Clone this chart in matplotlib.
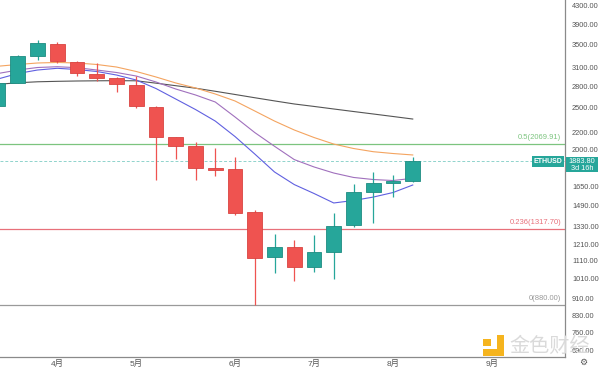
import numpy as np
import matplotlib
matplotlib.use("Agg")
import matplotlib.pyplot as plt
from matplotlib.patches import Rectangle
from matplotlib.transforms import blended_transform_factory

plt.rcParams['font.family'] = ['Liberation Sans', 'Noto Sans CJK SC', 'DejaVu Sans']

# 周K线 (ETHUSD, 2022-03-14 起)
week_start = ['03-14', '03-21', '03-28', '04-04', '04-11', '04-18', '04-25', '05-02',
              '05-09', '05-16', '05-23', '05-30', '06-06', '06-13', '06-20', '06-27',
              '07-04', '07-11', '07-18', '07-25', '08-01', '08-08']
opens = [2526, 2858, 3293, 3509, 3195, 2993, 2926, 2823, 2516, 2139, 2042, 1815,
         1805, 1437, 1131, 1198, 1077, 1166, 1343, 1598, 1681, 1700]
highs = [2900, 3310, 3584, 3547, 3200, 3178, 2950, 2961, 2520, 2145, 2090, 2018,
         1930, 1455, 1281, 1241, 1274, 1429, 1670, 1782, 1751, 1930]
lows = [2480, 2850, 3224, 3168, 2961, 2888, 2725, 2495, 1705, 1906, 1705, 1742,
        1420, 880, 1043, 1000, 1049, 1007, 1330, 1360, 1561, 1690]
closes = [2854, 3298, 3522, 3207, 3004, 2926, 2834, 2530, 2146, 2046, 1815, 1800,
          1434, 1130, 1198, 1077, 1166, 1337, 1598, 1681, 1700, 1883.8]

# 均线
ma_orange = [3119, 3148, 3173, 3182, 3173, 3148, 3106, 3033, 2946, 2854, 2779, 2692,
             2594, 2460, 2332, 2224, 2137, 2064, 2016, 1982, 1963, 1948]
ma_purple = [3001, 3057, 3098, 3111, 3095, 3057, 3017, 2961, 2869, 2764, 2678, 2580,
             2383, 2194, 2040, 1901, 1828, 1770, 1729, 1710, 1701, 1721]
ma_blue = [2915, 3001, 3057, 3085, 3065, 3033, 2977, 2899, 2771, 2621, 2479, 2332,
           2148, 1958, 1780, 1665, 1588, 1510, 1530, 1558, 1596, 1661]
ma_gray = [2834, 2857, 2872, 2879, 2884, 2887, 2889, 2887, 2851, 2813, 2776, 2731,
           2685, 2639, 2595, 2553, 2520, 2486, 2453, 2421, 2389, 2357]

# 斐波那契回撤
fib_levels = [2069.91, 1317.70, 880.00]
fib_labels = ['0.5(2069.91)', '0.236(1317.70)', '0(880.00)']
fib_colors = ['#7cc47f', '#e8707a', '#9a9a9a']

last_price = 1883.80
y_ticks = [4300, 3900, 3500, 3100, 2800, 2500, 2200, 2000, 1650, 1490, 1330,
           1210, 1110, 1010, 910, 830, 760, 690]
month_pos = [3, 7, 12, 16, 20, 25]
month_labels = ['4月', '5月', '6月', '7月', '8月', '9月']

UP = '#26a69a'
DOWN = '#ef5350'


def main():
    fig = plt.figure(figsize=(6, 3.67), dpi=100)
    ax = fig.add_axes([0, 10 / 367, 565 / 600, 357 / 367])
    ax.set_yscale('log')
    x = np.arange(len(opens))

    # 均线
    ax.plot(x, ma_gray, color='#555555', lw=0.8, zorder=2)
    ax.plot(x, ma_orange, color='#f4a460', lw=0.8, zorder=2)
    ax.plot(x, ma_purple, color='#a070bd', lw=0.8, zorder=2)
    ax.plot(x, ma_blue, color='#6060e0', lw=0.8, zorder=2)

    # 斐波那契线
    for lvl, lab, c in zip(fib_levels, fib_labels, fib_colors):
        ax.axhline(lvl, color=c, lw=0.9, zorder=1)
        ax.annotate(lab, xy=(0.993, lvl), xycoords=('axes fraction', 'data'),
                    xytext=(0, 2), textcoords='offset points', ha='right', va='bottom',
                    fontsize=5.5, color=c)

    # 现价虚线
    ax.axhline(last_price, color='#8fd3cc', lw=0.7, ls=(0, (3, 2)), zorder=1)

    # K线
    o = np.array(opens, dtype=float)
    c = np.array(closes, dtype=float)
    colors = [UP if cc >= oo else DOWN for oo, cc in zip(o, c)]
    edges = ['#1e8c81' if col == UP else '#d94441' for col in colors]
    ax.vlines(x, lows, highs, colors=colors, lw=0.9, zorder=3)
    ax.bar(x, np.abs(c - o), bottom=np.minimum(o, c), width=0.74, color=colors,
           edgecolor=edges, lw=0.6, zorder=4)

    ax.set_xlim(2 / 19.75, 567 / 19.75)
    ax.set_ylim(667, 4432)

    # 坐标轴
    for side in ['top', 'left']:
        ax.spines[side].set_visible(False)
    ax.spines['right'].set_color('#8a8a8a')
    ax.spines['bottom'].set_color('#8a8a8a')
    ax.spines['right'].set_linewidth(0.9)
    ax.spines['bottom'].set_linewidth(0.9)
    ax.yaxis.tick_right()
    ax.set_yticks(y_ticks)
    ax.set_yticklabels([f'{v:.2f}' for v in y_ticks])
    ax.yaxis.set_minor_locator(plt.NullLocator())
    ax.tick_params(axis='y', length=0, pad=5, labelsize=5.3, labelcolor='#555555')
    ax.set_xticks(month_pos)
    ax.set_xticklabels(month_labels)
    ax.tick_params(axis='x', length=0, pad=2, labelsize=6, labelcolor='#555555')

    # 现价标签
    trans = blended_transform_factory(ax.transAxes, ax.transData)
    ax.text(0.996, last_price, 'ETHUSD', transform=trans, ha='right', va='center',
            fontsize=5, color='white', fontweight='bold', zorder=6,
            bbox=dict(boxstyle='square,pad=0.25', fc=UP, ec='none'))
    fig.patches.append(Rectangle((566 / 600, 1 - 172 / 367), 32 / 600, 15 / 367,
                                 transform=fig.transFigure, fc=UP, ec='none'))
    fig.text(582 / 600, 1 - 161.5 / 367, '1883.80', ha='center', va='center',
             fontsize=5.3, color='white')
    fig.text(582 / 600, 1 - 168.5 / 367, '3d 16h', ha='center', va='center',
             fontsize=5.3, color='white')

    # 水印
    logo = '#f5b41e'
    for (lx, ly, w, h) in [(497, 335, 7, 21), (483, 349, 21, 7), (483, 339, 8, 7)]:
        fig.patches.append(Rectangle((lx / 600, 1 - (ly + h) / 367), w / 600, h / 367,
                                     transform=fig.transFigure, fc=logo, ec='none'))
    fig.text(550 / 600, 1 - 346 / 367, '金色财经', ha='center', va='center',
             fontsize=14.5, color='#dadada', family=['Noto Sans CJK SC'])
    fig.text(583 / 600, 1 - 362.5 / 367, '⚙', ha='center', va='center',
             fontsize=6.5, color='#555555', family=['DejaVu Sans'])

    fig.savefig('out.png', dpi=100)


if __name__ == "__main__":
    main()
